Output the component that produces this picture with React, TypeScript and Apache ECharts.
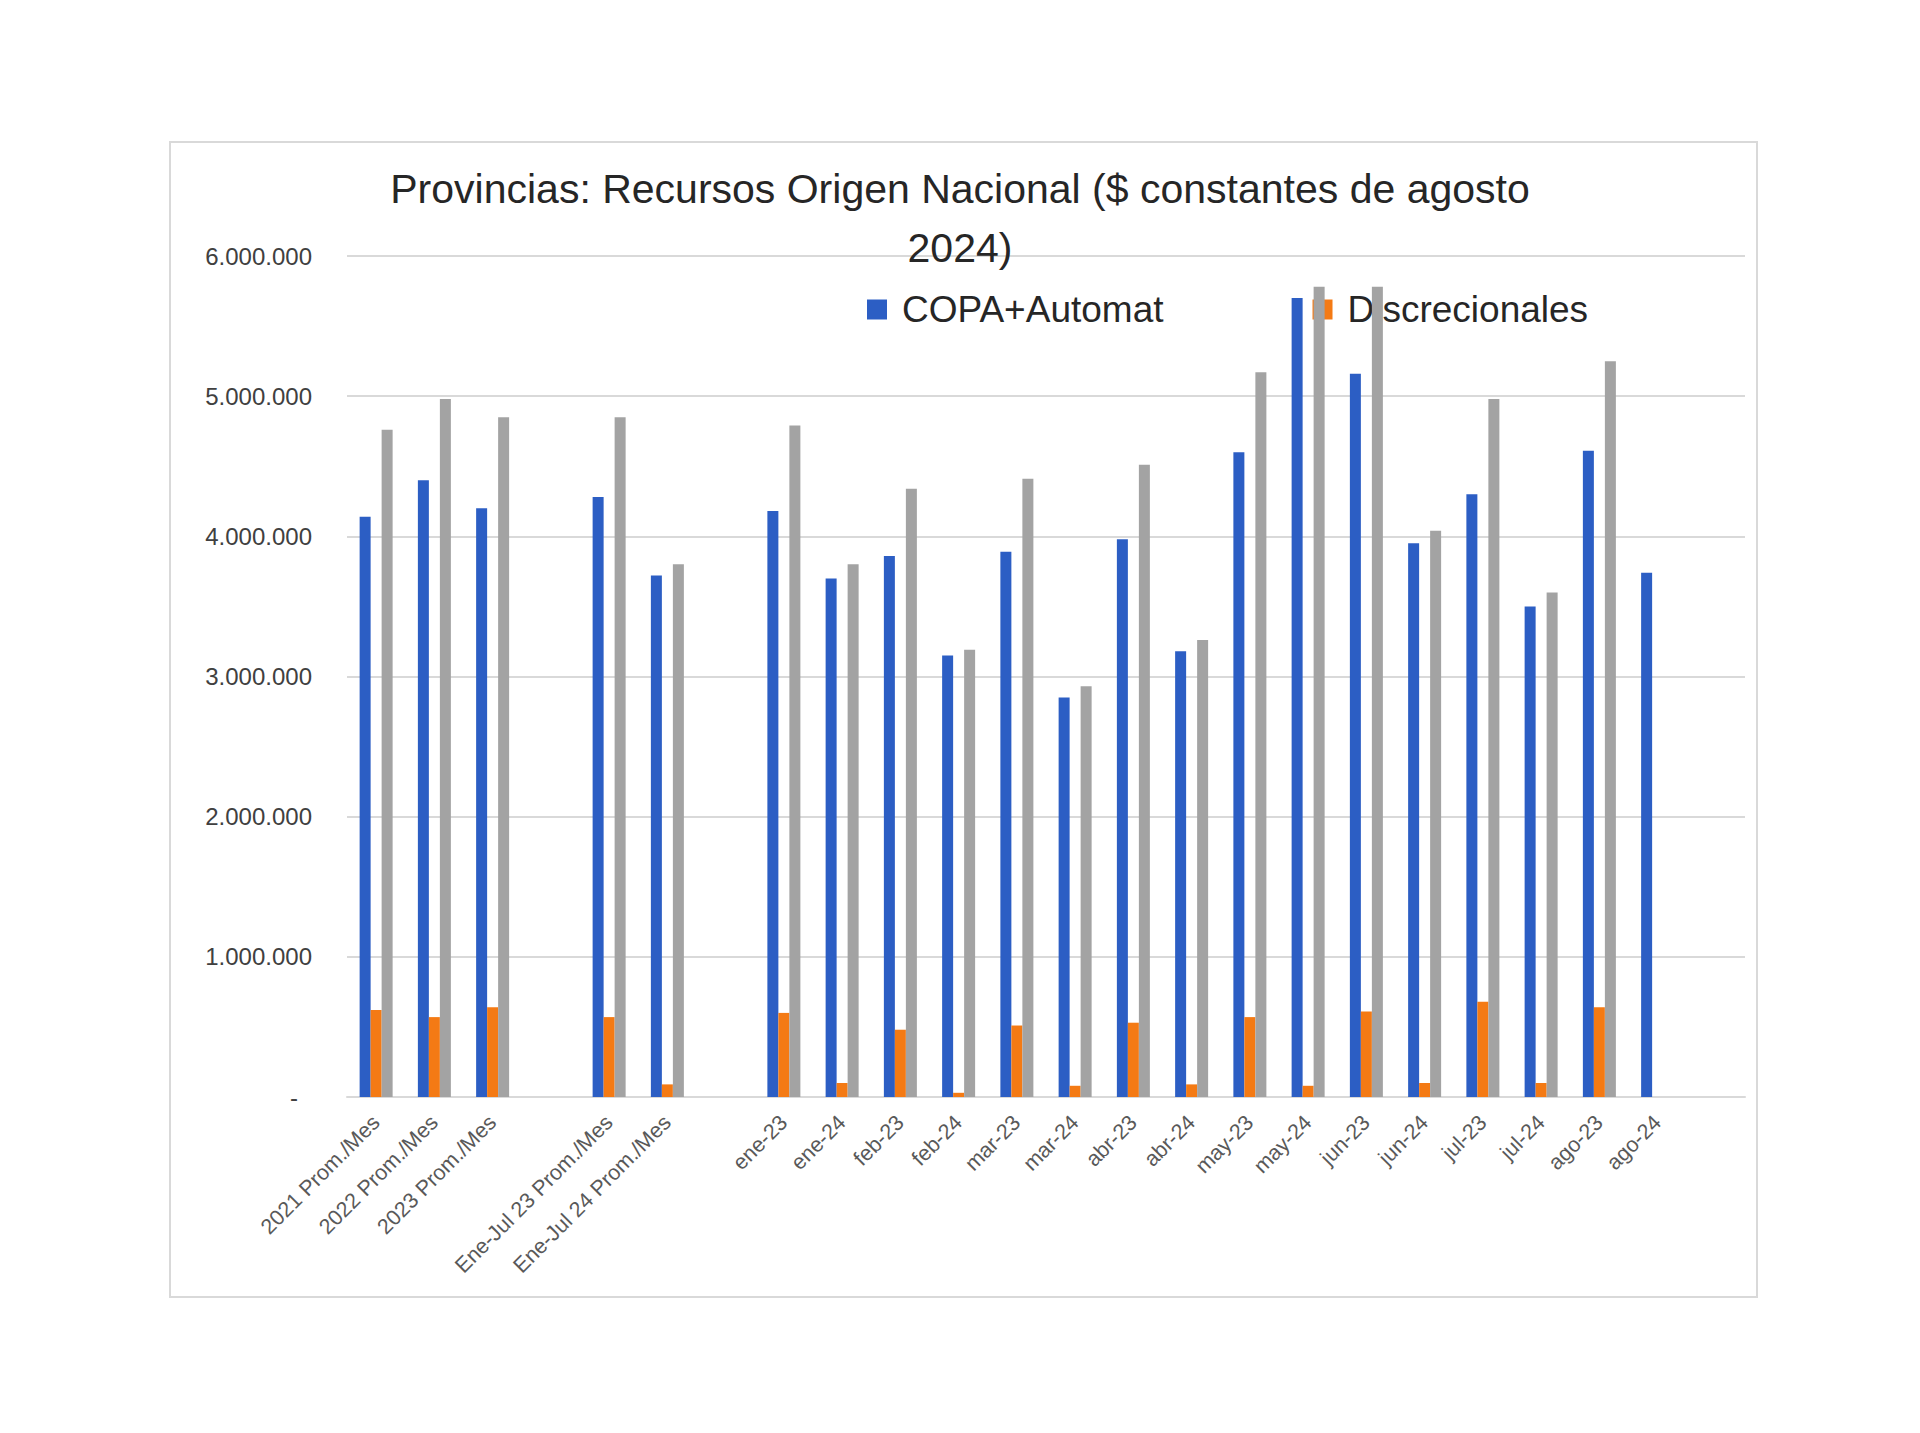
import React, { useEffect, useRef } from "react";
import * as echarts from "echarts";

const categories = [
  "2021 Prom./Mes",
  "2022 Prom./Mes",
  "2023 Prom./Mes",
  " ",
  "Ene-Jul 23 Prom./Mes",
  "Ene-Jul 24 Prom./Mes",
  "  ",
  "ene-23",
  "ene-24",
  "feb-23",
  "feb-24",
  "mar-23",
  "mar-24",
  "abr-23",
  "abr-24",
  "may-23",
  "may-24",
  "jun-23",
  "jun-24",
  "jul-23",
  "jul-24",
  "ago-23",
  "ago-24",
  "   ",
];

const copaAutomat = [
  4140000, 4400000, 4200000, null, 4280000, 3720000, null, 4180000, 3700000, 3860000, 3150000, 3890000,
  2850000, 3980000, 3180000, 4600000, 5700000, 5160000, 3950000, 4300000, 3500000, 4610000, 3740000, null,
];

const discrecionales = [
  620000, 570000, 640000, null, 570000, 90000, null, 600000, 100000, 480000, 30000, 510000, 80000, 530000,
  90000, 570000, 80000, 610000, 100000, 680000, 100000, 640000, null, null,
];

const total = [
  4760000, 4980000, 4850000, null, 4850000, 3800000, null, 4790000, 3800000, 4340000, 3190000, 4410000,
  2930000, 4510000, 3260000, 5170000, 5780000, 5780000, 4040000, 4980000, 3600000, 5250000, null, null,
];

const titleText = "Provincias: Recursos Origen Nacional ($ constantes de agosto\n2024)";
const legendNames = ["COPA+Automat", "Discrecionales"];

function fmt(v: number): string {
  if (v === 0) return "{z|-}";
  return String(Math.round(v)).replace(/\B(?=(\d{3})+(?!\d))/g, ".");
}

export default function App() {
  const ref = useRef<HTMLDivElement>(null);
  useEffect(() => {
    document.body.style.margin = "0";
    if (!ref.current) return;
    const chart = echarts.init(ref.current, null, { renderer: "svg" });
    const font = "'Liberation Sans', Arial, sans-serif";
    chart.setOption({
      animation: false,
      backgroundColor: "#ffffff",
      title: {
        text: titleText,
        left: "center",
        top: 154,
        textStyle: {
          fontFamily: font,
          fontSize: 41,
          fontWeight: "normal",
          color: "#262626",
          lineHeight: 59,
        },
      },
      graphic: [
        {
          type: "rect",
          shape: { x: 170, y: 142, width: 1587, height: 1155 },
          style: { fill: "none", stroke: "#d9d9d9", lineWidth: 2 },
          silent: true,
        },
      ],
      legend: {
        data: legendNames,
        left: 867,
        top: 291,
        padding: 0,
        itemWidth: 20,
        itemHeight: 20,
        itemGap: 149,
        icon: "rect",
        z: 1,
        textStyle: {
          fontFamily: font,
          fontSize: 37,
          color: "#262626",
          padding: [0, 0, 0, 10],
        },
      },
      grid: { left: 347, right: 175, top: 256, bottom: 336, containLabel: false },
      xAxis: {
        type: "category",
        data: categories,
        axisTick: { show: false },
        axisLine: { lineStyle: { color: "#d9d9d9", width: 2 } },
        axisLabel: {
          interval: 0,
          rotate: 45,
          margin: 22,
          fontFamily: font,
          fontSize: 21.5,
          color: "#595959",
        },
      },
      yAxis: {
        type: "value",
        min: 0,
        max: 6000000,
        interval: 1000000,
        axisLine: { show: false },
        axisTick: { show: false },
        splitLine: { lineStyle: { color: "#d9d9d9", width: 2 } },
        axisLabel: {
          margin: 35,
          fontFamily: font,
          fontSize: 24,
          color: "#404040",
          formatter: fmt,
          rich: { z: { fontSize: 24, color: "#404040", padding: [0, 14, 0, 0] } },
        },
      },
      series: [
        {
          name: "COPA+Automat",
          type: "bar",
          data: copaAutomat,
          barWidth: 11,
          barGap: "0%",
          itemStyle: { color: "#2c5ec4" },
          z: 2,
        },
        {
          name: "Discrecionales",
          type: "bar",
          data: discrecionales,
          barWidth: 11,
          barGap: "0%",
          itemStyle: { color: "#f47a14" },
          z: 2,
        },
        {
          name: "Total",
          type: "bar",
          data: total,
          barWidth: 11,
          barGap: "0%",
          itemStyle: { color: "#a3a3a3" },
          z: 2,
        },
      ],
    });
    return () => chart.dispose();
  }, []);
  return <div ref={ref} style={{ width: 1920, height: 1433 }} />;
}
